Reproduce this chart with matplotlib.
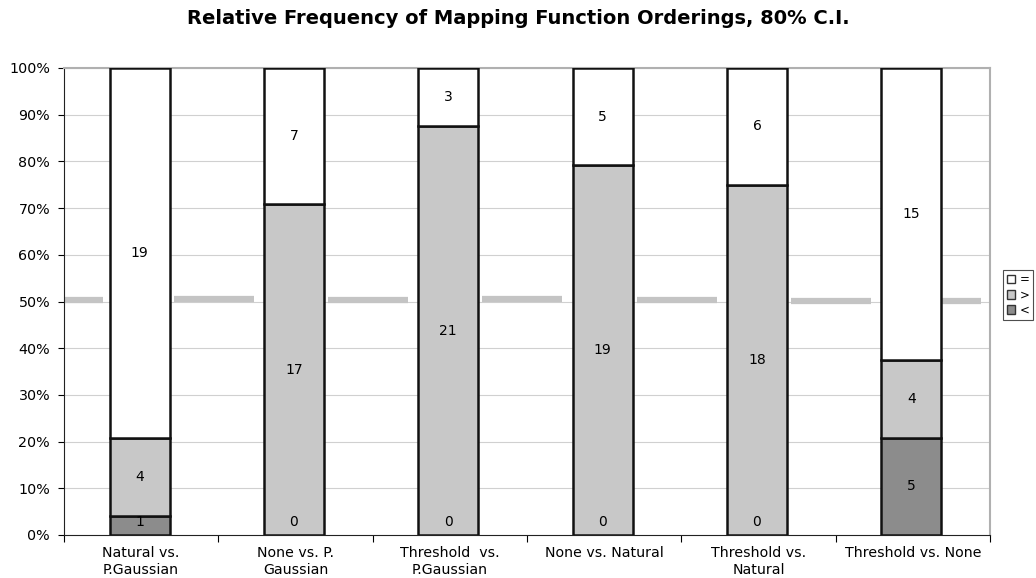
import matplotlib
matplotlib.use("Agg")
import matplotlib.pyplot as plt
import numpy as np
from matplotlib.patches import Patch

categories = ["Natural vs.\nP.Gaussian", "None vs. P.\nGaussian", "Threshold  vs.\nP.Gaussian",
              "None vs. Natural", "Threshold vs.\nNatural", "Threshold vs. None"]
count_lt = [1, 0, 0, 0, 0, 5]
count_gt = [4, 17, 21, 19, 18, 4]
count_eq = [19, 7, 3, 5, 6, 15]
# 50% reference dashes (percent), one at each end and between categories
ref_levels = [50.3, 50.6, 50.3, 50.6, 50.4, 50.1, 50.2]

colors = {"<": "#8c8c8c", ">": "#c8c8c8", "=": "#ffffff"}

lt = np.array(count_lt, float)
gt = np.array(count_gt, float)
eq = np.array(count_eq, float)
tot = lt + gt + eq
p_lt = lt / tot * 100
p_gt = gt / tot * 100
p_eq = eq / tot * 100

fig = plt.figure(figsize=(10.36, 5.78), dpi=100)
ax = fig.add_axes([64 / 1036, 1 - 535 / 578, (990 - 64) / 1036, (535 - 68) / 578])

x = np.arange(len(categories))
ax.set_xlim(-0.5, len(categories) - 0.5)
ax.set_ylim(0, 100)

# grid
for g in range(10, 101, 10):
    ax.axhline(g, color="#d0d0d0", lw=0.8, zorder=0)

# 50% reference dashes
n = len(categories)
segs = [(-0.5, -0.25)]
for k in range(n - 1):
    c = k + 0.5 - 0.03
    segs.append((c - 0.26, c + 0.26))
segs.append((n - 1 + 0.19, n - 1 + 0.44))
for (a, b), yv in zip(segs, ref_levels):
    ax.plot([a, b], [yv, yv], color="#c4c4c4", lw=4.5, solid_capstyle="butt", zorder=1)

w = 0.39
ax.bar(x - 0.01, p_lt, w, color=colors["<"], edgecolor="#111111", lw=1.8, zorder=3)
ax.bar(x - 0.01, p_gt, w, bottom=p_lt, color=colors[">"], edgecolor="#111111", lw=1.8, zorder=3)
ax.bar(x - 0.01, p_eq, w, bottom=p_lt + p_gt, color=colors["="], edgecolor="#111111", lw=1.8, zorder=3)

fs = 10
for i in range(n):
    xc = x[i] - 0.01
    ax.text(xc, max(p_lt[i] / 2, 2.8), f"{int(lt[i])}", ha="center", va="center", fontsize=fs, zorder=4)
    if gt[i] > 0:
        ax.text(xc, p_lt[i] + p_gt[i] / 2, f"{int(gt[i])}", ha="center", va="center", fontsize=fs, zorder=4)
    if eq[i] > 0:
        ax.text(xc, p_lt[i] + p_gt[i] + p_eq[i] / 2, f"{int(eq[i])}", ha="center", va="center", fontsize=fs, zorder=4)

# axes styling
ax.spines["left"].set_color("#222222")
ax.spines["bottom"].set_color("#222222")
ax.spines["top"].set_color("#b0b0b0")
ax.spines["right"].set_color("#b0b0b0")
ax.spines["top"].set_linewidth(1.5)
ax.spines["right"].set_linewidth(1.5)

ax.set_yticks(range(0, 101, 10))
ax.set_yticklabels([f"{v}%" for v in range(0, 101, 10)], fontsize=10.3)
ax.tick_params(axis="y", direction="out", length=4, width=0.8, pad=6)

ax.set_xticks(np.arange(n + 1) - 0.5, minor=False)
ax.set_xticklabels([])
ax.tick_params(axis="x", direction="out", length=5, width=0.8)
ax.set_xticks(x, minor=True)
ax.set_xticklabels(categories, minor=True, fontsize=10.2, linespacing=1.3)
ax.tick_params(axis="x", which="minor", length=0, pad=8)

fig.text(518 / 1036, 1 - 18 / 578, "Relative Frequency of Mapping Function Orderings, 80% C.I.",
         ha="center", va="center", fontsize=14, fontweight="bold")

handles = [Patch(facecolor=colors[k], edgecolor="#333333", lw=1.0) for k in ["=", ">", "<"]]
leg = fig.legend(handles, ["=", ">", "<"], loc="center", bbox_to_anchor=(1018 / 1036, 1 - 295 / 578),
                 fontsize=8.5, frameon=True, fancybox=False, handlelength=0.75, handleheight=0.75,
                 handletextpad=0.35, borderpad=0.3, labelspacing=0.2, borderaxespad=0)
leg.get_frame().set_edgecolor("#222222")
leg.get_frame().set_linewidth(0.8)

fig.savefig("out.png", dpi=100)
